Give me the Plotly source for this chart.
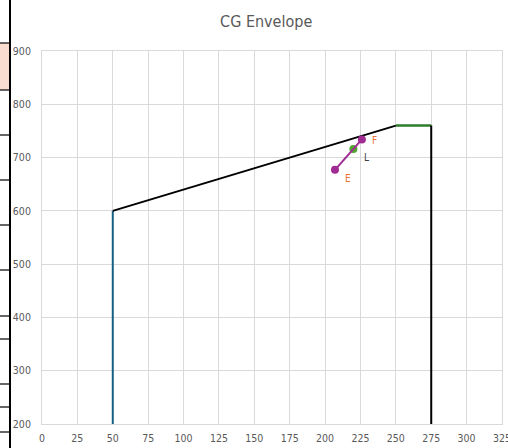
import plotly.graph_objects as go

# Envelope segments (CG in, weight)
fwd_x = [50, 50]
fwd_y = [200, 600]
top_x = [50, 250]
top_y = [600, 760]
lim_x = [250, 275]
lim_y = [760, 760]
aft_x = [275, 275]
aft_y = [760, 200]

# Loading points
load_x = [207, 226]
load_y = [677, 734]
load_labels = ["E", "F"]
land_x = [220]
land_y = [716]
land_labels = ["L"]

x_ticks = list(range(0, 326, 25))
y_ticks = list(range(200, 901, 100))

FONT = "DejaVu Sans Condensed, Liberation Sans Narrow, Roboto, Arial"

fig = go.Figure()
fig.add_trace(go.Scatter(x=fwd_x, y=fwd_y, mode="lines", line=dict(color="#156082", width=2)))
fig.add_trace(go.Scatter(x=top_x, y=top_y, mode="lines", line=dict(color="#000000", width=2)))
fig.add_trace(go.Scatter(x=lim_x, y=lim_y, mode="lines", line=dict(color="#2E7D2A", width=2.5)))
fig.add_trace(go.Scatter(x=aft_x, y=aft_y, mode="lines", line=dict(color="#000000", width=2)))
fig.add_trace(go.Scatter(x=land_x, y=land_y, mode="markers",
                         marker=dict(color="#4EA72E", size=8)))
fig.add_trace(go.Scatter(x=load_x, y=load_y, mode="lines+markers", line=dict(color="#A02B93", width=2),
                         marker=dict(color="#A02B93", size=8)))

annotations = [
    dict(x=load_x[0], y=load_y[0], text=load_labels[0], showarrow=False, xanchor="center", yanchor="middle",
         xshift=13, yshift=-9, font=dict(color="#E97132", size=10, family=FONT)),
    dict(x=load_x[1], y=load_y[1], text=load_labels[1], showarrow=False, xanchor="center", yanchor="middle",
         xshift=13, yshift=-1, font=dict(color="#E97132", size=10, family=FONT)),
    dict(x=land_x[0], y=land_y[0], text=land_labels[0], showarrow=False, xanchor="center", yanchor="middle",
         xshift=13, yshift=-8, font=dict(color="#404040", size=10, family=FONT)),
    dict(x=x_ticks[-1], y=0, xref="x", yref="paper", text=str(x_ticks[-1]), showarrow=False,
         xanchor="center", yanchor="top", yshift=-6, font=dict(color="#595959", size=10.5, family=FONT)),
]

# spreadsheet cell borders visible on the left of the screenshot
L, T, W, H = 42, 51, 460, 373
def px(x):
    return (x - L) / W
def py(y):
    return (T + H - y) / H

shapes = [
    dict(type="rect", xref="paper", yref="paper", x0=px(0), x1=px(9), y0=py(90), y1=py(43),
         fillcolor="#F8DDD0", line=dict(width=0), layer="above"),
    dict(type="line", xref="paper", yref="paper", x0=px(10), x1=px(10), y0=py(448), y1=py(0),
         line=dict(color="#000000", width=2)),
]
for hy in [43, 90, 135, 180, 225, 270, 316, 339, 384, 407, 432]:
    shapes.append(dict(type="line", xref="paper", yref="paper", x0=px(0), x1=px(10), y0=py(hy), y1=py(hy),
                       line=dict(color="#000000", width=1.2)))

fig.update_layout(
    width=508, height=448,
    margin=dict(l=L, r=508 - L - W, t=T, b=448 - T - H, autoexpand=False),
    paper_bgcolor="white", plot_bgcolor="white",
    showlegend=False,
    title=dict(text="CG Envelope", x=0.524, xanchor="center", y=1 - 21 / 448, yanchor="middle",
               font=dict(family=FONT, size=16, color="#595959")),
    font=dict(family=FONT, size=10.5, color="#595959"),
    shapes=shapes,
    annotations=annotations,
)
fig.update_xaxes(range=[0, 325], tickvals=x_ticks[:-1], showgrid=True, gridcolor="#D9D9D9", gridwidth=1,
                 zeroline=False, showline=True, linecolor="#D9D9D9", mirror=True, ticks="",
                 automargin=False, tickfont=dict(size=10.5, color="#595959"), ticklabelstandoff=4)
fig.update_yaxes(range=[200, 900], tickvals=y_ticks, showgrid=True, gridcolor="#D9D9D9", gridwidth=1,
                 zeroline=False, showline=True, linecolor="#D9D9D9", mirror=True, ticks="",
                 automargin=False, tickfont=dict(size=10.5, color="#595959"), ticklabelstandoff=8)

fig.write_html("out.html", config={"displayModeBar": False},
               post_script="document.body.style.margin='0px';document.body.style.overflow='hidden';")
